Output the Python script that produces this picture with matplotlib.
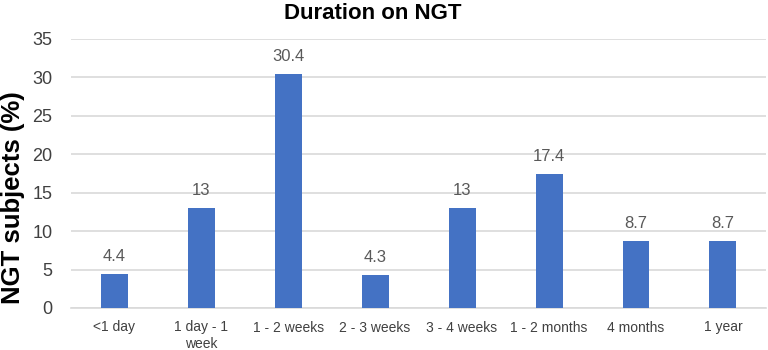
import matplotlib.pyplot as plt
import numpy as np

plt.rcParams['font.family'] = ['Liberation Sans', 'DejaVu Sans']

categories = ['<1 day', '1 day - 1\nweek', '1 - 2 weeks', '2 - 3 weeks',
              '3 - 4 weeks', '1 - 2 months', '4 months', '1 year']
values = [4.4, 13, 30.4, 4.3, 13, 17.4, 8.7, 8.7]
value_labels = ['4.4', '13', '30.4', '4.3', '13', '17.4', '8.7', '8.7']

fig = plt.figure(figsize=(7.68, 3.5), dpi=100)
ax = fig.add_axes([0.092, 0.12, 0.906, 0.769])

x = np.arange(len(categories))
bars = ax.bar(x, values, width=0.31, color='#4472C4', zorder=3)

for b, lab in zip(bars, value_labels):
    ax.text(b.get_x() + b.get_width() / 2, b.get_height() + 1.35, lab,
            ha='center', va='bottom', fontsize=12, color='#595959')

ax.set_ylim(0, 35)
ax.set_xlim(-0.5, len(categories) - 0.5)
ax.set_yticks(range(0, 36, 5))
ax.tick_params(axis='y', labelsize=13, length=0, pad=13, labelcolor='#404040')
ax.set_xticks(x)
ax.set_xticklabels(categories, fontsize=10, color='#404040')
ax.tick_params(axis='x', length=0, pad=9)
ax.grid(axis='y', color='#D9D9D9', linewidth=1.2, zorder=0)
for s in ['top', 'right', 'left']:
    ax.spines[s].set_visible(False)
ax.spines['bottom'].set_color('#D9D9D9')
ax.spines['bottom'].set_linewidth(1.2)

fig.text(0.017, 0.434, 'NGT subjects (%)', rotation=90, fontsize=18.5,
         fontweight='bold', ha='center', va='center')
fig.text(373 / 768, 0.991, 'Duration on NGT', fontsize=16,
         fontweight='bold', ha='center', va='top')

fig.savefig('out.png', dpi=100)
